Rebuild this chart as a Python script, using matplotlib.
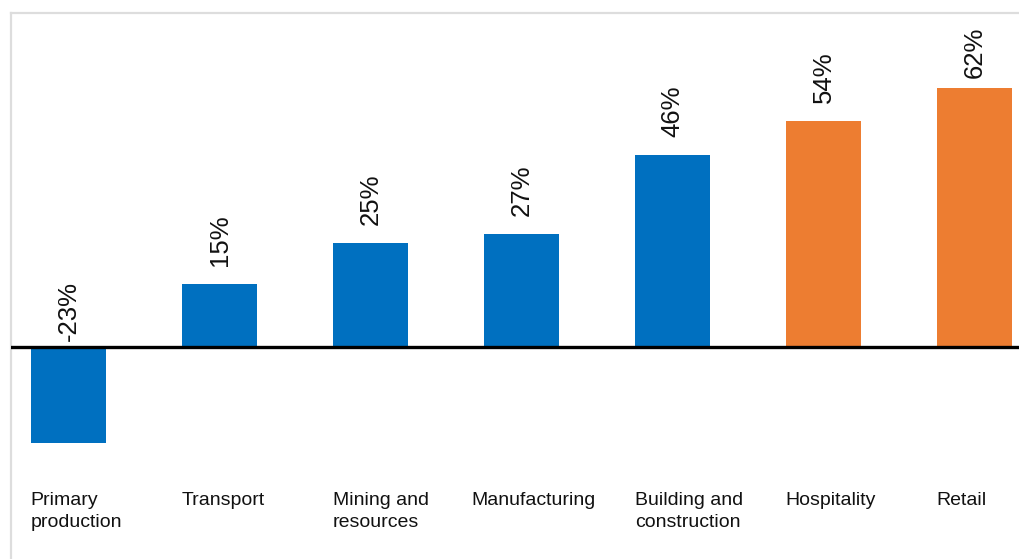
import matplotlib
matplotlib.use("Agg")
import matplotlib.pyplot as plt

categories = ["Primary\nproduction", "Transport", "Mining and\nresources", "Manufacturing",
              "Building and\nconstruction", "Hospitality", "Retail"]
values = [-23, 15, 25, 27, 46, 54, 62]
labels = ["-23%", "15%", "25%", "27%", "46%", "54%", "62%"]
colors = ["#0070C0"] * 5 + ["#ED7D31"] * 2

plt.rcParams['font.family'] = ['Liberation Sans', 'DejaVu Sans']

W, H = 1019, 559
fig = plt.figure(figsize=(W / 100, H / 100), dpi=100)
ax = fig.add_axes([11 / W, 0, (W - 11) / W, (H - 13) / H])

x = list(range(len(categories)))
ax.bar(x, values, width=0.5, color=colors, zorder=2)
ax.axhline(0, color="black", linewidth=2.4, zorder=3)

ax.set_xlim(-0.381, 6.295)
ax.set_ylim(-50.7, 79.9)

label_top_limit = 64.4
for i, (v, lab) in enumerate(zip(values, labels)):
    if v < 0:
        y = 1.5
    else:
        y = min(v + 4.3, label_top_limit)
    ax.text(i, y, lab, rotation=90, ha="center", va="bottom",
            fontsize=18.5, color="#111111")

for i, cat in enumerate(categories):
    dx = -0.33 if cat == "Manufacturing" else -0.25
    ax.text(i + dx, -34.6, cat, ha="left", va="top", fontsize=14,
            color="#111111", linespacing=1.38)

for s in ["right", "bottom"]:
    ax.spines[s].set_visible(False)
for s in ["top", "left"]:
    ax.spines[s].set_color("#dddddd")
    ax.spines[s].set_linewidth(1.6)
ax.set_xticks([])
ax.set_yticks([])

fig.savefig("out.png", dpi=100)
